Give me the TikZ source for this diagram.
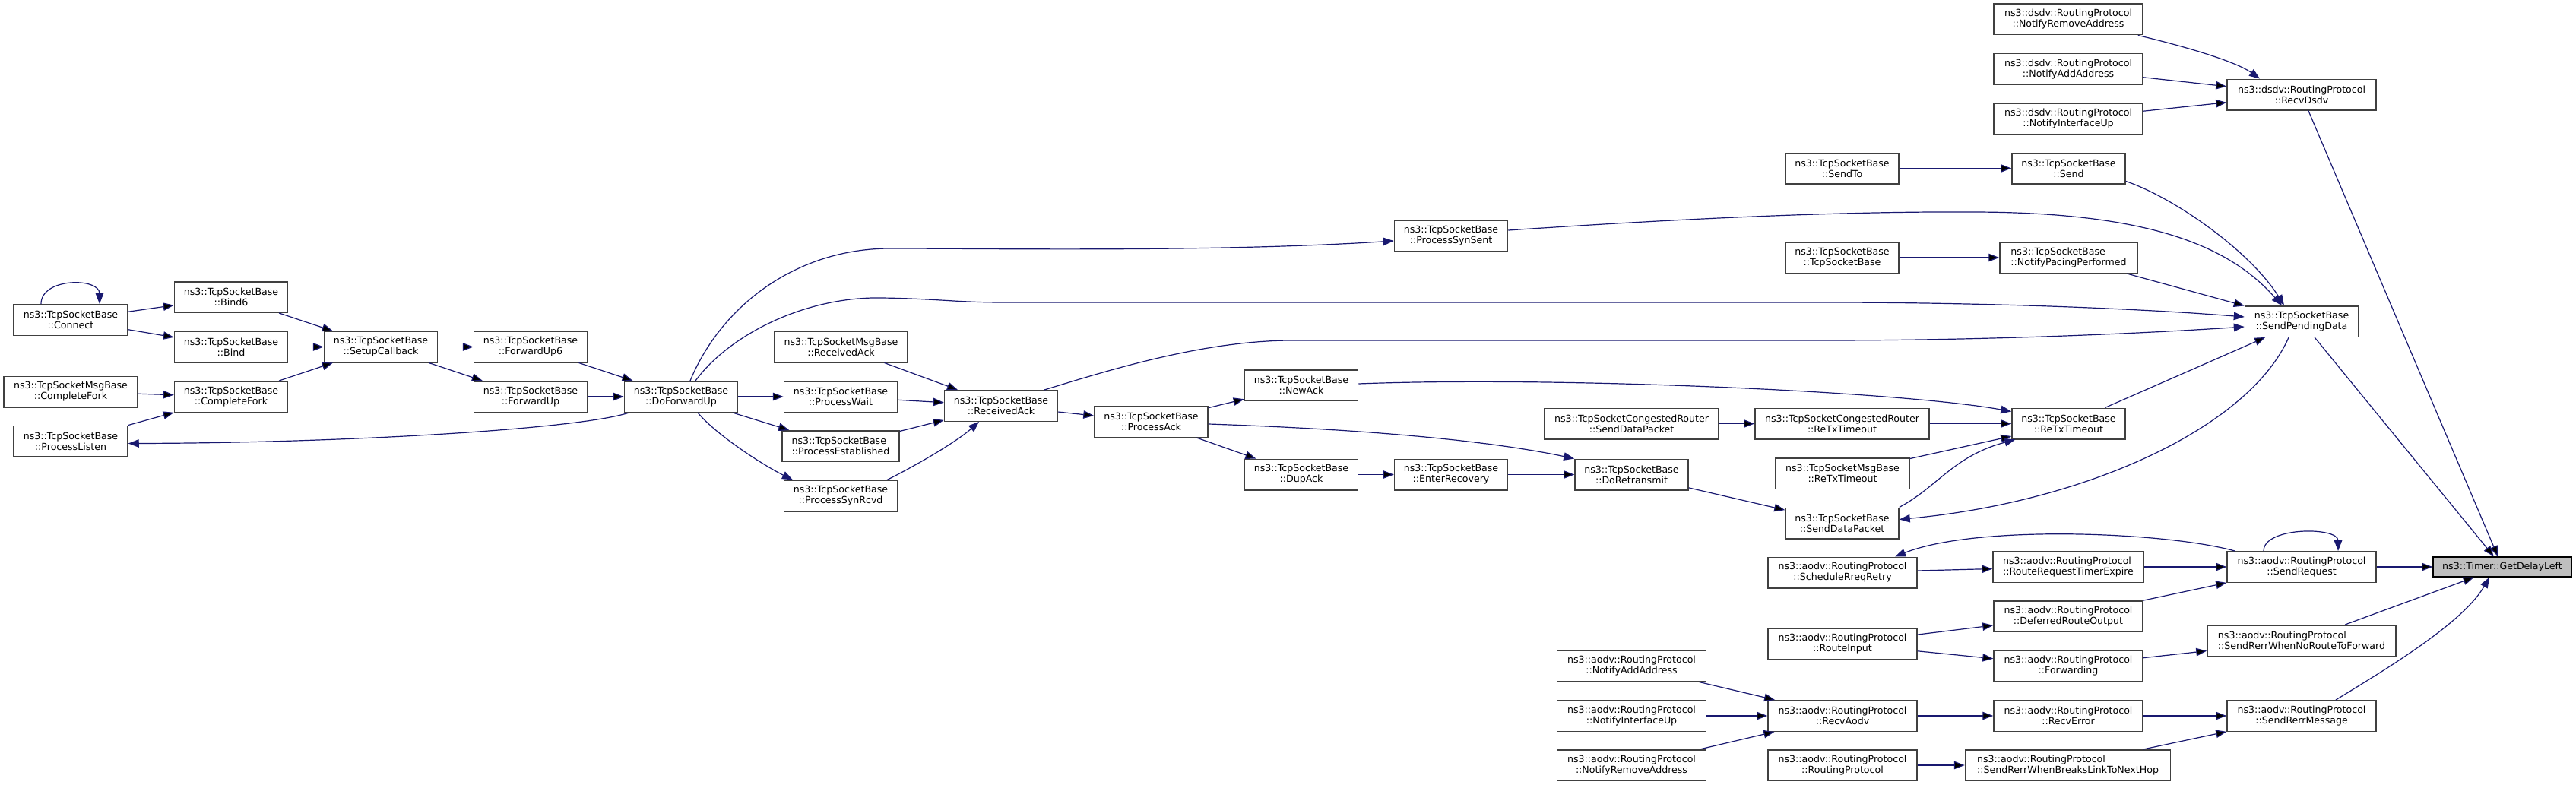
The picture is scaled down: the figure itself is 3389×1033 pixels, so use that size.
\documentclass[tikz,border=0pt]{standalone}
\usepackage{fontspec}
\setmainfont{DejaVu Sans}
\usepackage{xcolor}
\usepackage{tikz}
\usetikzlibrary{arrows.meta}
\definecolor{edgeblue}{HTML}{191970}
\definecolor{hitgrey}{HTML}{BFBFBF}
\definecolor{boxline}{HTML}{404040}
\begin{document}
\begin{tikzpicture}[x=1pt, y=-1pt,
    fn/.style={draw=boxline, line width=1.5pt, fill=white, rectangle, align=center,
      inner sep=0pt, minimum height=40.5pt, font=\fontsize{12.6}{14}\selectfont},
    tcp/.style={fn, minimum width=149pt},
    aodv/.style={fn, minimum width=196pt},
    hit/.style={fn, fill=hitgrey, draw=black, minimum height=26pt},
    call/.style={draw=edgeblue, line width=1.2pt, -{Triangle[length=14pt,width=10.5pt]}}]
    \useasboundingbox (0,0) rectangle (3389,1033);
    % tcp socket side
    \node[tcp, minimum width=150pt] (connect) at (93,421) {ns3::TcpSocketBase\\::Connect};
    \node[tcp] (bindsix) at (304,391) {ns3::TcpSocketBase\\::Bind6};
    \node[tcp] (bind) at (304,456.5) {ns3::TcpSocketBase\\::Bind};
    \node[fn, minimum width=176pt] (msgfork) at (93,515.5) {ns3::TcpSocketMsgBase\\::CompleteFork};
    \node[tcp] (fork) at (304,522) {ns3::TcpSocketBase\\::CompleteFork};
    \node[tcp, minimum width=150pt] (listen) at (93,580.5) {ns3::TcpSocketBase\\::ProcessListen};
    \node[tcp] (setup) at (501,456.5) {ns3::TcpSocketBase\\::SetupCallback};
    \node[tcp] (fwdsix) at (698,456.5) {ns3::TcpSocketBase\\::ForwardUp6};
    \node[tcp] (fwd) at (698,522) {ns3::TcpSocketBase\\::ForwardUp};
    \node[tcp] (doforward) at (896,522) {ns3::TcpSocketBase\\::DoForwardUp};
    \node[fn, minimum width=175pt] (msgrecvack) at (1106.5,456.5) {ns3::TcpSocketMsgBase\\::ReceivedAck};
    \node[tcp] (wait) at (1106,522) {ns3::TcpSocketBase\\::ProcessWait};
    \node[fn, minimum width=154pt, align=left] (established) at (1106,587) {ns3::TcpSocketBase\\::ProcessEstablished};
    \node[tcp] (synrcvd) at (1106,652.5) {ns3::TcpSocketBase\\::ProcessSynRcvd};
    \node[tcp] (recvack) at (1317,534) {ns3::TcpSocketBase\\::ReceivedAck};
    \node[tcp] (processack) at (1514.5,555) {ns3::TcpSocketBase\\::ProcessAck};
    \node[tcp] (newack) at (1712,507) {ns3::TcpSocketBase\\::NewAck};
    \node[tcp] (dupack) at (1712,624.5) {ns3::TcpSocketBase\\::DupAck};
    \node[tcp] (synsent) at (1909,310) {ns3::TcpSocketBase\\::ProcessSynSent};
    \node[tcp] (recovery) at (1909,624.5) {ns3::TcpSocketBase\\::EnterRecovery};
    \node[fn, minimum width=229pt] (crsend) at (2146.5,557.5) {ns3::TcpSocketCongestedRouter\\::SendDataPacket};
    \node[tcp] (retransmit) at (2146.5,624.5) {ns3::TcpSocketBase\\::DoRetransmit};
    \node[tcp] (sendto) at (2423.5,221.5) {ns3::TcpSocketBase\\::SendTo};
    \node[tcp] (ctor) at (2423.5,339) {ns3::TcpSocketBase\\::TcpSocketBase};
    \node[fn, minimum width=229pt] (crretx) at (2423.5,557.5) {ns3::TcpSocketCongestedRouter\\::ReTxTimeout};
    \node[fn, minimum width=176pt] (msgretx) at (2424,623) {ns3::TcpSocketMsgBase\\::ReTxTimeout};
    \node[tcp] (datapacket) at (2423.5,688.5) {ns3::TcpSocketBase\\::SendDataPacket};
    \node[tcp] (send) at (2721.5,221.5) {ns3::TcpSocketBase\\::Send};
    \node[fn, minimum width=181pt, align=left] (pacing) at (2721.5,339) {ns3::TcpSocketBase\\::NotifyPacingPerformed};
    \node[tcp] (retx) at (2721.5,557.5) {ns3::TcpSocketBase\\::ReTxTimeout};
    \node[tcp] (pending) at (3028,423) {ns3::TcpSocketBase\\::SendPendingData};
    % dsdv
    \node[aodv] (dsrmaddr) at (2721,25.5) {ns3::dsdv::RoutingProtocol\\::NotifyRemoveAddress};
    \node[aodv] (dsaddr) at (2721,91) {ns3::dsdv::RoutingProtocol\\::NotifyAddAddress};
    \node[aodv] (dsifup) at (2721,156.5) {ns3::dsdv::RoutingProtocol\\::NotifyInterfaceUp};
    \node[aodv] (recvdsdv) at (3028,124.5) {ns3::dsdv::RoutingProtocol\\::RecvDsdv};
    % aodv
    \node[aodv] (rreqretry) at (2424,753.5) {ns3::aodv::RoutingProtocol\\::ScheduleRreqRetry};
    \node[aodv] (aoaddr) at (2146.5,876.5) {ns3::aodv::RoutingProtocol\\::NotifyAddAddress};
    \node[aodv] (aoifup) at (2146.5,942) {ns3::aodv::RoutingProtocol\\::NotifyInterfaceUp};
    \node[aodv] (aormaddr) at (2146.5,1007) {ns3::aodv::RoutingProtocol\\::NotifyRemoveAddress};
    \node[aodv] (routeinput) at (2424,847) {ns3::aodv::RoutingProtocol\\::RouteInput};
    \node[aodv] (recvaodv) at (2424,942) {ns3::aodv::RoutingProtocol\\::RecvAodv};
    \node[aodv] (aodvctor) at (2424,1007) {ns3::aodv::RoutingProtocol\\::RoutingProtocol};
    \node[aodv, minimum width=198pt, align=left] (timerexpire) at (2721,746) {ns3::aodv::RoutingProtocol\\::RouteRequestTimerExpire};
    \node[aodv] (deferred) at (2721,811) {ns3::aodv::RoutingProtocol\\::DeferredRouteOutput};
    \node[aodv] (forwarding) at (2721,876.5) {ns3::aodv::RoutingProtocol\\::Forwarding};
    \node[aodv] (recverror) at (2721,942) {ns3::aodv::RoutingProtocol\\::RecvError};
    \node[fn, minimum width=270pt, align=left] (breakslink) at (2720.5,1007) {ns3::aodv::RoutingProtocol\\::SendRerrWhenBreaksLinkToNextHop};
    \node[aodv] (sendrequest) at (3028,746) {ns3::aodv::RoutingProtocol\\::SendRequest};
    \node[fn, minimum width=248pt, align=left] (noroute) at (3028,843) {ns3::aodv::RoutingProtocol\\::SendRerrWhenNoRouteToForward};
    \node[aodv] (rerrmessage) at (3028,942) {ns3::aodv::RoutingProtocol\\::SendRerrMessage};
    \node[hit, minimum width=182pt] (getdelay) at (3292,746) {ns3::Timer::GetDelayLeft};

    % straight calls
    \path[call] (connect) edge (bindsix);
    \path[call] (connect) edge (bind);
    \path[call] (bindsix) edge (setup);
    \path[call] (bind) edge (setup);
    \path[call] (fork) edge (setup);
    \path[call] (msgfork) edge (fork);
    \path[call] (listen) edge (fork);
    \path[call] (setup) edge (fwdsix);
    \path[call] (setup) edge (fwd);
    \path[call] (fwdsix) edge (doforward);
    \path[call] (fwd) edge (doforward);
    \path[call] (doforward) edge (wait);
    \path[call] (doforward) edge (established);
    \path[call] (msgrecvack) edge (recvack);
    \path[call] (wait) edge (recvack);
    \path[call] (established) edge (recvack);
    \path[call] (recvack) edge (processack);
    \path[call] (processack) edge (newack);
    \path[call] (processack) edge (dupack);
    \path[call] (dupack) edge (recovery);
    \path[call] (recovery) edge (retransmit);
    \path[call] (retransmit) edge (datapacket);
    \path[call] (crsend) edge (crretx);
    \path[call] (crretx) edge (retx);
    \path[call] (msgretx) edge (retx);
    \path[call] (retx) edge (pending);
    \path[call] (sendto) edge (send);
    \path[call] (ctor) edge (pacing);
    \path[call] (pacing) edge (pending);
    \path[call] (pending) edge (getdelay);
    \path[call] (dsaddr) edge (recvdsdv);
    \path[call] (dsifup) edge (recvdsdv);
    \path[call] (recvdsdv) edge (getdelay);
    \path[call] (rreqretry) edge (timerexpire);
    \path[call] (timerexpire) edge (sendrequest);
    \path[call] (sendrequest) edge (getdelay);
    \path[call] (deferred) edge (sendrequest);
    \path[call] (routeinput) edge (deferred);
    \path[call] (routeinput) edge (forwarding);
    \path[call] (forwarding) edge (noroute);
    \path[call] (noroute) edge (getdelay);
    \path[call] (aoaddr) edge (recvaodv);
    \path[call] (aoifup) edge (recvaodv);
    \path[call] (aormaddr) edge (recvaodv);
    \path[call] (recvaodv) edge (recverror);
    \path[call] (recverror) edge (rerrmessage);
    \path[call] (aodvctor) edge (breakslink);
    \path[call] (breakslink) edge (rerrmessage);

    % curved calls
    \draw[call] ([xshift=-39pt]connect.north) .. controls +(0,-35) and +(0,-35) .. ([xshift=38pt]connect.north);
    \draw[call] ([xshift=-50pt]sendrequest.north) .. controls +(0,-32) and +(0,-32) .. ([xshift=48pt]sendrequest.north);
    \draw[call] ([xshift=7pt]doforward.south west) .. controls (760,565) and (450,583) .. ([yshift=-3pt]listen.east);
    \draw[call] ([xshift=12pt]doforward.north) .. controls (950,400) and (1050,327) .. (1171,327)
      .. controls (1300,327) and (1600,332) .. ([yshift=-7pt]synsent.west);
    \draw[call] ([xshift=19pt]doforward.north) .. controls (960,440) and (1060,390) .. (1160,392)
      .. controls (1230,393) and (1260,398) .. (1320,398) -- (2400,398)
      .. controls (2600,398) and (2800,405) .. ([yshift=6pt]pending.west);
    \draw[call] ([xshift=57pt]recvack.north) .. controls (1450,490) and (1580,448) .. (1700,448) -- (2400,448)
      .. controls (2600,448) and (2800,440) .. ([yshift=-7pt]pending.west);
    \draw[call] ([yshift=7pt]synsent.east) .. controls (2250,285) and (2450,278) .. (2600,279)
      .. controls (2820,280) and (2930,320) .. ([xshift=-26pt]pending.north);
    \draw[call] ([yshift=4pt]send.south east) .. controls (2860,260) and (2960,330) .. ([xshift=-23pt]pending.north);
    \draw[call] ([xshift=-17pt]pending.south) .. controls (2960,560) and (2750,660) .. ([yshift=5pt]datapacket.east);
    \draw[call] (datapacket.north east) .. controls (2550,640) and (2570,600) .. ([xshift=5pt]retx.south west);
    \draw[call] ([yshift=2pt]newack.east) .. controls (2050,495) and (2500,515) .. ([yshift=16pt]retx.west);
    \draw[call] ([yshift=-3pt]processack.east) .. controls (1800,565) and (1960,580) .. (retransmit.north west);
    \draw[call] ([xshift=22pt]doforward.south) .. controls (940,570) and (1000,610) .. ([xshift=-63pt]synrcvd.north);
    \draw[call] ([xshift=61pt]synrcvd.north) .. controls (1210,610) and (1260,580) .. ([xshift=-29pt]recvack.south);
    \draw[call] ([xshift=-88pt]sendrequest.north) .. controls (2850,700) and (2600,690) .. ([xshift=69pt]rreqretry.north);
    \draw[call] ([xshift=45pt]rerrmessage.north) .. controls (3140,880) and (3240,820) .. ([xshift=-17pt]getdelay.south);
    \draw[call] ([xshift=-7pt]dsrmaddr.south east) .. controls (2870,60) and (2940,80) .. ([xshift=-55pt]recvdsdv.north);
\end{tikzpicture}
\end{document}
